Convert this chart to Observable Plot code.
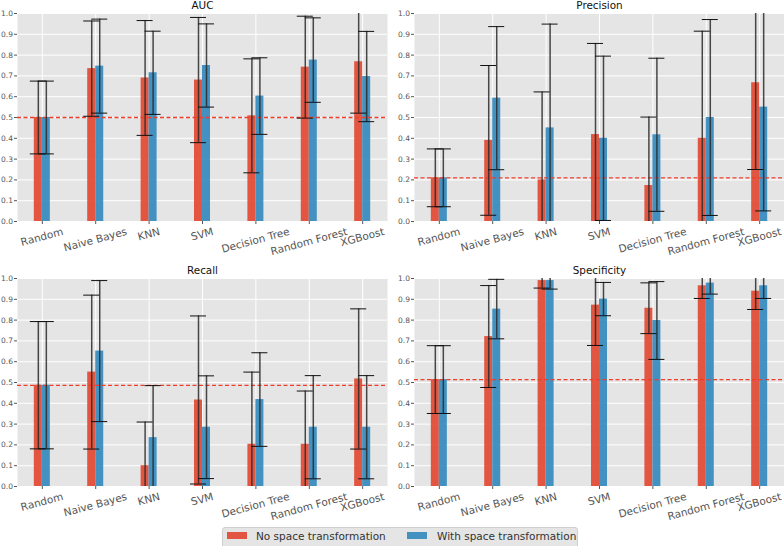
<!DOCTYPE html>
<html><head><meta charset="utf-8">
<script src="https://cdn.jsdelivr.net/npm/d3@7"></script>
<script src="https://cdn.jsdelivr.net/npm/@observablehq/plot@0.6"></script>
<style>
body{margin:0;background:#fff;font-family:"DejaVu Sans",sans-serif;}
#fig{position:relative;width:784px;height:546px;overflow:hidden;background:#fff;}
.panel{position:absolute;}
.panel svg{overflow:visible;display:block;}
#legend{position:absolute;left:222px;top:527px;width:356px;height:24px;background:#E5E5E5;border:1px solid #cfcfcf;border-radius:3px;box-sizing:border-box;font-size:10.5px;color:#333;}
#legend .sw{position:absolute;top:4px;width:20px;height:7px;opacity:0.92;}
#legend .lb{position:absolute;top:1px;line-height:14px;white-space:nowrap;}
</style></head><body><div id="fig"></div>
<script>
// ---- data ----
const categories = ["Random", "Naive Bayes", "KNN", "SVM", "Decision Tree", "Random Forest", "XGBoost"];
const metrics = ["AUC", "Precision", "Recall", "Specificity"];
const seriesNames = ["No space transformation", "With space transformation"];
const seriesColors = ["#E24A33", "#348ABD"];

const aucNoMean   = [0.500, 0.735, 0.690, 0.680, 0.508, 0.742, 0.768];
const aucNoErr    = [0.175, 0.229, 0.276, 0.301, 0.274, 0.245, 0.247];
const aucWithMean = [0.500, 0.747, 0.715, 0.750, 0.603, 0.776, 0.697];
const aucWithErr  = [0.175, 0.226, 0.200, 0.200, 0.184, 0.203, 0.217];

const precNoMean   = [0.210, 0.390, 0.200, 0.418, 0.173, 0.400, 0.667];
const precNoErr    = [0.139, 0.360, 0.423, 0.438, 0.329, 0.515, 0.417];
const precWithMean = [0.210, 0.593, 0.450, 0.400, 0.417, 0.500, 0.550];
const precWithErr  = [0.139, 0.344, 0.499, 0.395, 0.368, 0.471, 0.499];

const recNoMean   = [0.487, 0.550, 0.100, 0.416, 0.203, 0.203, 0.517];
const recNoErr    = [0.306, 0.370, 0.210, 0.404, 0.347, 0.256, 0.337];
const recWithMean = [0.487, 0.651, 0.235, 0.285, 0.418, 0.285, 0.285];
const recWithErr  = [0.306, 0.339, 0.250, 0.247, 0.225, 0.248, 0.248];

const specNoMean   = [0.514, 0.721, 0.990, 0.872, 0.857, 0.965, 0.939];
const specNoErr    = [0.163, 0.245, 0.036, 0.194, 0.122, 0.061, 0.088];
const specWithMean = [0.514, 0.853, 0.990, 0.901, 0.798, 0.978, 0.965];
const specWithErr  = [0.163, 0.143, 0.041, 0.080, 0.187, 0.053, 0.061];

const baselines = [0.500, 0.210, 0.486, 0.514];
const yTickValues = [0.0, 0.1, 0.2, 0.3, 0.4, 0.5, 0.6, 0.7, 0.8, 0.9, 1.0];

// ---- build tables ----
const seriesData = [
  [[aucNoMean, aucNoErr], [aucWithMean, aucWithErr]],
  [[precNoMean, precNoErr], [precWithMean, precWithErr]],
  [[recNoMean, recNoErr], [recWithMean, recWithErr]],
  [[specNoMean, specNoErr], [specWithMean, specWithErr]]
];
const xTickValues = categories.map((c, i) => i);
const BW = 0.15; // bar width in category units
const CAP = 0.15; // half cap width

const layout = [
  {left: 0,   top: 0,   height: 262, mt: 13, ml: 17, mr: 5},
  {left: 392, top: 0,   height: 262, mt: 13, ml: 22, mr: 0},
  {left: 0,   top: 262, height: 260, mt: 16, ml: 17, mr: 5},
  {left: 392, top: 262, height: 260, mt: 16, ml: 22, mr: 0}
];
const PH = 208;

const fig = document.getElementById("fig");

metrics.forEach((metric, m) => {
  const L = layout[m];
  const rows = [];
  seriesData[m].forEach(([means, errs], s) => {
    categories.forEach((cat, i) => {
      const left = s === 0 ? i - BW : i;
      rows.push({cat, i, s, series: seriesNames[s], mean: means[i], err: errs[i],
                 x1: left, x2: left + BW, cx: left + BW / 2});
    });
  });
  const mb = L.height - L.mt - PH;
  const chart = Plot.plot({
    width: 392, height: L.height,
    marginTop: L.mt, marginBottom: mb, marginLeft: L.ml, marginRight: L.mr,
    style: {fontFamily: "DejaVu Sans, sans-serif", color: "#555", background: "transparent", overflow: "visible"},
    x: {domain: [-0.465, 6.465], axis: null},
    y: {domain: [0, 1], axis: null},
    color: {domain: seriesNames, range: seriesColors},
    marks: [
      Plot.frame({fill: "#E5E5E5", stroke: "none"}),
      Plot.gridY({ticks: yTickValues, stroke: "white", strokeOpacity: 1, strokeWidth: 1}),
      Plot.gridX({ticks: xTickValues, stroke: "white", strokeOpacity: 1, strokeWidth: 1}),
      Plot.axisY({ticks: yTickValues, tickFormat: d3.format(".1f"), tickSize: 3, tickPadding: 1.5, fontSize: 7.5, stroke: "#555", label: null}),
      Plot.axisX({ticks: xTickValues, tickFormat: i => categories[i], tickSize: 3, tickPadding: 3, label: null,
                  tickRotate: -15, textAnchor: "middle", fontSize: 10.5, stroke: "#555"}),
      Plot.rectY(rows, {x1: "x1", x2: "x2", y1: 0, y2: "mean", fill: "series", fillOpacity: 0.92}),
      Plot.ruleY([baselines[m]], {stroke: "#F03C28", strokeWidth: 1.3, strokeDasharray: "4,2.5"}),
      Plot.ruleX(rows, {x: "cx", y1: d => d.mean - d.err, y2: d => d.mean + d.err, stroke: "#2a2a2a", strokeWidth: 1.5, strokeOpacity: 0.85, clip: true}),
      Plot.ruleY(rows, {y: d => d.mean + d.err, x1: d => d.cx - CAP, x2: d => d.cx + CAP, stroke: "#111", strokeWidth: 1, clip: true}),
      Plot.ruleY(rows, {y: d => d.mean - d.err, x1: d => d.cx - CAP, x2: d => d.cx + CAP, stroke: "#111", strokeWidth: 1, clip: true}),
      Plot.text([metric], {frameAnchor: "top", lineAnchor: "middle", dy: -7.5, fontSize: 10.4, fill: "#111"})
    ]
  });
  const div = document.createElement("div");
  div.className = "panel";
  div.style.left = L.left + "px";
  div.style.top = L.top + "px";
  div.appendChild(chart);
  fig.appendChild(div);

  // align rotated tick labels like matplotlib (bbox centred on the tick, top just below the axis)
  const xs = chart.scale("x");
  const sr = chart.getBoundingClientRect();
  const plotBottom = L.mt + PH;
  chart.querySelectorAll('g[aria-label="x-axis tick label"] text').forEach((t, k) => {
    const r = t.getBoundingClientRect();
    const tx = xs.apply(xTickValues[k]);
    const dx = tx - ((r.left + r.right) / 2 - sr.left);
    const dy = (plotBottom + 4) - (r.top - sr.top);
    t.setAttribute("transform", `translate(${dx},${dy}) ` + (t.getAttribute("transform") || ""));
  });
});

// ---- legend ----
const legend = document.createElement("div");
legend.id = "legend";
const swLeft = [4, 184];
const lbLeft = [33, 214];
seriesNames.forEach((name, s) => {
  const sw = document.createElement("div");
  sw.className = "sw";
  sw.style.left = swLeft[s] + "px";
  sw.style.background = seriesColors[s];
  const lb = document.createElement("div");
  lb.className = "lb";
  lb.style.left = lbLeft[s] + "px";
  lb.textContent = name;
  legend.appendChild(sw);
  legend.appendChild(lb);
});
fig.appendChild(legend);
</script></body></html>
